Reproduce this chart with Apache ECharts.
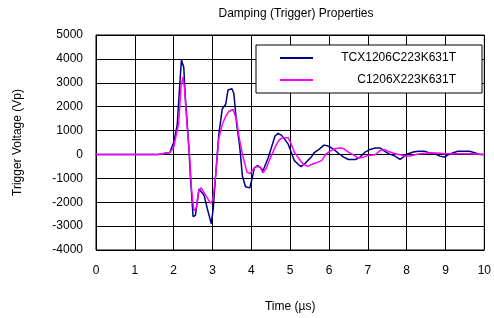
<!DOCTYPE html>
<html>
<head>
<meta charset="utf-8">
<script src="https://cdn.jsdelivr.net/npm/echarts@6/dist/echarts.min.js"></script>
<style>
  html, body { margin: 0; padding: 0; background: #fff; }
  #chart { width: 494px; height: 318px; }
</style>
</head>
<body>
<div id="chart"></div>
<script>
// TCX1206C223K631T (navy)
const timeTcx = [0, 1.6, 1.62, 1.9, 2.0, 2.09, 2.16, 2.2, 2.26, 2.3, 2.39, 2.43, 2.5, 2.56, 2.65, 2.7, 2.78, 2.88, 2.97, 3.02,
  3.08, 3.16, 3.25, 3.34, 3.4, 3.5, 3.55, 3.62, 3.7, 3.77, 3.85, 3.96, 4.02, 4.08, 4.16, 4.23, 4.3, 4.35, 4.44, 4.52,
  4.61, 4.69, 4.78, 4.86, 4.95, 5.03, 5.11, 5.2, 5.28, 5.37, 5.45, 5.54, 5.62, 5.75, 5.87, 5.96, 6.04, 6.15, 6.25, 6.38,
  6.5, 6.68, 6.8, 6.93, 7.06, 7.19, 7.32, 7.4, 7.53, 7.66, 7.74, 7.83, 7.91, 8.04, 8.17, 8.3, 8.47, 8.6, 8.73, 8.85,
  8.97, 9.07, 9.2, 9.32, 9.45, 9.62, 9.75, 9.88, 10];
const voltTcx = [0, 0, 60, 80, 500, 1200, 3000, 3950, 3650, 2400, 350, -900, -2600, -2550, -1450, -1400, -1700, -2350, -2900, -2250,
  -900, 800, 1900, 2100, 2700, 2750, 2550, 1300, 350, -900, -1350, -1400, -1000, -550, -470, -540, -680, -600, -120, 300,
  770, 880, 800, 630, 430, 80, -260, -400, -510, -400, -260, -120, 80, 220, 390, 360, 300, 180, 40, -110,
  -210, -210, -110, 100, 210, 270, 270, 170, 30, -40, -110, -210, -110, 30, 100, 130, 130, 60, 30, -70,
  -110, -15, 70, 130, 130, 130, 70, 0, 0];

// C1206X223K631T (magenta)
const timeC = [0, 1.6, 1.62, 1.9, 2.0, 2.13, 2.19, 2.24, 2.28, 2.36, 2.41, 2.46, 2.52, 2.58, 2.65, 2.71, 2.82, 2.95, 3.01, 3.08,
  3.16, 3.25, 3.34, 3.42, 3.53, 3.62, 3.68, 3.77, 3.89, 3.97, 4.06, 4.14, 4.23, 4.3, 4.38, 4.46, 4.57, 4.65, 4.73, 4.82,
  4.95, 5.03, 5.11, 5.2, 5.33, 5.45, 5.58, 5.7, 5.81, 5.92, 6.04, 6.17, 6.3, 6.38, 6.5, 6.63, 6.76, 6.8, 6.89, 7.02,
  7.19, 7.32, 7.44, 7.57, 7.7, 7.83, 7.96, 8.09, 8.21, 8.34, 8.56, 8.81, 8.98, 9.41, 9.67, 10];
const voltC = [0, 0, 60, 80, 300, 1300, 2850, 3250, 2750, 900, -50, -1450, -2350, -2250, -1500, -1400, -1700, -2050, -1900, -900,
  650, 1250, 1600, 1800, 1880, 1450, 770, 0, -750, -800, -600, -500, -540, -770, -600, -260, 150, 430, 630, 700,
  700, 430, 80, -120, -400, -500, -400, -330, -260, 15, 150, 250, 270, 240, 100, -15, -150, -210, -110, -40,
  -15, 170, 200, 100, 30, -15, -70, -70, -15, 30, 60, 60, 30, 30, 30, 0];

const seriesNames = ['TCX1206C223K631T', 'C1206X223K631T'];

const pairs = (xs, ys) => xs.map((x, i) => [x, ys[i]]);
const font = 'Liberation Sans, Arial, sans-serif';

const chart = echarts.init(document.getElementById('chart'));
chart.setOption({
    animation: false,
    backgroundColor: '#fff',
    textStyle: { fontFamily: font, color: '#000' },
    title: {
        text: 'Damping (Trigger) Properties',
        left: 291, top: 3, textAlign: 'center',
        textStyle: { fontFamily: font, fontSize: 12, fontWeight: 'normal', color: '#000' }
    },
    grid: {
        left: 96, right: 7, top: 35, bottom: 66,
        show: true, borderColor: '#000', borderWidth: 1, backgroundColor: '#fff'
    },
    legend: {
        orient: 'vertical',
        left: 256, top: 45,
        padding: [7, 26, 7, 24],
        itemGap: 10,
        itemWidth: 33, itemHeight: 2,
        icon: 'rect',
        backgroundColor: '#fff',
        borderColor: '#000', borderWidth: 1,
        data: seriesNames,
        formatter: name => '{a|' + name + '}',
        textStyle: {
            rich: { a: { width: 138, height: 14, align: 'right', fontSize: 12, fontFamily: font, color: '#000' } }
        }
    },
    xAxis: {
        type: 'value', min: 0, max: 10, interval: 1,
        name: 'Time (µs)', nameLocation: 'middle', nameGap: 51,
        nameTextStyle: { fontSize: 12, fontFamily: font, color: '#000' },
        axisLine: { show: true, lineStyle: { color: '#000' } },
        axisTick: { show: false },
        axisLabel: { fontSize: 12, margin: 15, color: '#000', fontFamily: font },
        splitLine: { show: true, lineStyle: { color: '#000', width: 1 } }
    },
    yAxis: {
        type: 'value', min: -4000, max: 5000, interval: 1000,
        name: 'Trigger Voltage (Vp)', nameLocation: 'middle', nameGap: 72,
        nameTextStyle: { fontSize: 12, fontFamily: font, color: '#000' },
        axisLine: { show: true, onZero: false, lineStyle: { color: '#000' } },
        axisTick: { show: false },
        axisLabel: { fontSize: 12, margin: 13, color: '#000', fontFamily: font, formatter: v => String(v) },
        splitLine: { show: true, lineStyle: { color: '#000', width: 1 } }
    },
    series: [
        {
            name: seriesNames[0], type: 'line', symbol: 'none',
            data: pairs(timeTcx, voltTcx),
            lineStyle: { color: '#000080', width: 1.5 },
            itemStyle: { color: '#000080' },
            z: 3
        },
        {
            name: seriesNames[1], type: 'line', symbol: 'none',
            data: pairs(timeC, voltC),
            lineStyle: { color: '#ff00ff', width: 1.5 },
            itemStyle: { color: '#ff00ff' },
            z: 4
        }
    ]
});
</script>
</body>
</html>
